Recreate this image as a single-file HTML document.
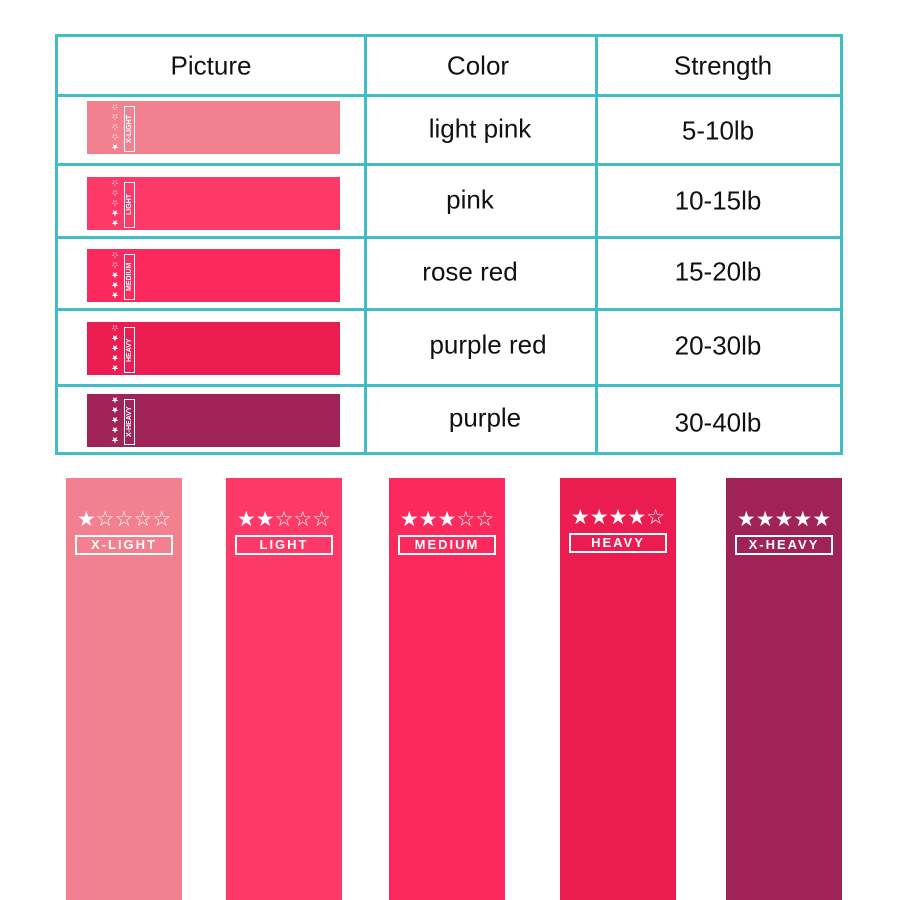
<!DOCTYPE html>
<html><head><style>
body{margin:0;width:900px;height:900px;background:#fff;position:relative;overflow:hidden;font-family:"Liberation Sans","DejaVu Sans",sans-serif;}
.l{position:absolute;background:#3fbdcb;}
.t{position:absolute;font-size:26px;color:#111;transform:translate(-50%,-50%);white-space:nowrap;}
.b{position:absolute;left:87px;width:253px;height:53px;overflow:hidden;}
.bar{position:absolute;top:478px;height:422px;width:116px;}
.st{position:absolute;left:0;width:100%;text-align:center;color:#fff;font-size:21px;letter-spacing:0px;line-height:22px;}
.lb{position:absolute;left:9px;right:9px;height:16px;border:2px solid #fff;color:#fff;font-size:13px;font-weight:bold;letter-spacing:2px;text-align:center;line-height:16px;}
.sv{position:absolute;left:22px;top:2px;width:50px;height:50px;}
.sv .s{position:absolute;left:0;top:2px;width:12px;height:46px;color:#fff;font-size:9px;line-height:10px;writing-mode:vertical-rl;transform:rotate(180deg);text-align:center;}
.sv .k{position:absolute;left:15px;top:3px;width:9px;height:44px;border:1.5px solid #fff;color:#fff;font-size:7px;font-weight:bold;writing-mode:vertical-rl;transform:rotate(180deg);text-align:center;line-height:9px;}
</style></head><body>
<div class="l" style="left:55px;top:34px;width:788px;height:3px"></div>
<div class="l" style="left:55px;top:94px;width:788px;height:3px"></div>
<div class="l" style="left:55px;top:163px;width:788px;height:3px"></div>
<div class="l" style="left:55px;top:236px;width:788px;height:3px"></div>
<div class="l" style="left:55px;top:308px;width:788px;height:3px"></div>
<div class="l" style="left:55px;top:384px;width:788px;height:3px"></div>
<div class="l" style="left:55px;top:452px;width:788px;height:3px"></div>
<div class="l" style="left:55px;top:34px;width:3px;height:421px"></div>
<div class="l" style="left:364px;top:34px;width:3px;height:421px"></div>
<div class="l" style="left:595px;top:34px;width:3px;height:421px"></div>
<div class="l" style="left:840px;top:34px;width:3px;height:421px"></div>

<div class="t" style="left:211px;top:66px">Picture</div>
<div class="t" style="left:478px;top:66px">Color</div>
<div class="t" style="left:723px;top:66px">Strength</div>
<div class="t" style="left:480px;top:129px">light pink</div>
<div class="t" style="left:470px;top:200px">pink</div>
<div class="t" style="left:470px;top:272px">rose red</div>
<div class="t" style="left:488px;top:345px">purple red</div>
<div class="t" style="left:485px;top:418px">purple</div>
<div class="t" style="left:718px;top:131px">5-10lb</div>
<div class="t" style="left:718px;top:201px">10-15lb</div>
<div class="t" style="left:718px;top:272px">15-20lb</div>
<div class="t" style="left:718px;top:346px">20-30lb</div>
<div class="t" style="left:718px;top:423px">30-40lb</div>

<div class="b" style="top:101px;background:#f2808f"><div class="sv"><div class="s">★☆☆☆☆</div><div class="k">X-LIGHT</div></div></div>
<div class="b" style="top:177px;background:#fd3a67"><div class="sv"><div class="s">★★☆☆☆</div><div class="k">LIGHT</div></div></div>
<div class="b" style="top:249px;background:#fc2a5c"><div class="sv"><div class="s">★★★☆☆</div><div class="k">MEDIUM</div></div></div>
<div class="b" style="top:322px;background:#eb1d50"><div class="sv"><div class="s">★★★★☆</div><div class="k">HEAVY</div></div></div>
<div class="b" style="top:394px;background:#a02358"><div class="sv"><div class="s">★★★★★</div><div class="k">X-HEAVY</div></div></div>

<div class="bar" style="left:66px;background:#f2808f"><div class="st" style="top:31px">★☆☆☆☆</div><div class="lb" style="top:57px">X-LIGHT</div></div>
<div class="bar" style="left:226px;background:#fd3a67"><div class="st" style="top:31px">★★☆☆☆</div><div class="lb" style="top:57px">LIGHT</div></div>
<div class="bar" style="left:389px;background:#fc2a5c"><div class="st" style="top:31px">★★★☆☆</div><div class="lb" style="top:57px">MEDIUM</div></div>
<div class="bar" style="left:560px;background:#eb1d50"><div class="st" style="top:29px">★★★★☆</div><div class="lb" style="top:55px">HEAVY</div></div>
<div class="bar" style="left:726px;background:#a02358"><div class="st" style="top:31px">★★★★★</div><div class="lb" style="top:57px">X-HEAVY</div></div>
</body></html>
